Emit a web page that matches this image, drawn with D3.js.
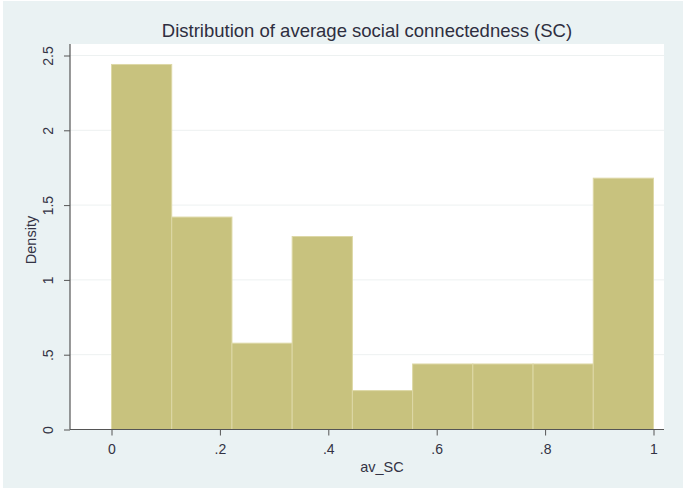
<!DOCTYPE html>
<html>
<head>
<meta charset="utf-8">
<script src="https://cdn.jsdelivr.net/npm/d3@7"></script>
<style>
  html, body { margin: 0; padding: 0; background: #ffffff; }
  svg { display: block; }
  text { font-family: "Liberation Sans", Arial, sans-serif; }
</style>
</head>
<body>
<div id="chart"></div>
<script>
// ---- data ----
const binStarts = [0, 1/9, 2/9, 3/9, 4/9, 5/9, 6/9, 7/9, 8/9];
const binWidth = 1/9;
const densities = [2.44, 1.42, 0.577, 1.29, 0.26, 0.438, 0.438, 0.438, 1.68];
const xTickValues = [0, 0.2, 0.4, 0.6, 0.8, 1];
const xTickLabels = ["0", ".2", ".4", ".6", ".8", "1"];
const yTickValues = [0, 0.5, 1, 1.5, 2, 2.5];
const yTickLabels = ["0", ".5", "1", "1.5", "2", "2.5"];
const titleText = "Distribution of average social connectedness (SC)";
const xTitle = "av_SC";
const yTitle = "Density";

// ---- layout ----
const W = 693, H = 492;
const svg = d3.select("#chart").append("svg").attr("width", W).attr("height", H);

// graph region
svg.append("rect").attr("x", 3).attr("y", 1).attr("width", 680).attr("height", 487)
  .attr("fill", "#eaf2f3");

const plot = { left: 70, right: 664, top: 44, bottom: 429.5 };
svg.append("rect").attr("x", plot.left).attr("y", plot.top)
  .attr("width", plot.right - plot.left).attr("height", plot.bottom - plot.top)
  .attr("fill", "#ffffff");

const x = d3.scaleLinear().domain([0, 1]).range([111.5, 653.5]);
const y = d3.scaleLinear().domain([0, 2.5]).range([429.5, 55.5]);

// gridlines
svg.append("g").selectAll("line").data(yTickValues.filter(v => v > 0)).join("line")
  .attr("x1", plot.left).attr("x2", plot.right)
  .attr("y1", d => y(d)).attr("y2", d => y(d))
  .attr("stroke", "#edf1f1").attr("stroke-width", 1);

// bars
svg.append("g").selectAll("rect").data(binStarts).join("rect")
  .attr("x", (d) => x(d))
  .attr("width", (d) => x(d + binWidth) - x(d))
  .attr("y", (d, i) => y(densities[i]))
  .attr("height", (d, i) => y(0) - y(densities[i]))
  .attr("fill", "#c8c27e")
  .attr("stroke", "#ddd8a6")
  .attr("stroke-width", 1);

// x axis
const xAxis = d3.axisBottom(x).tickValues(xTickValues)
  .tickFormat((d, i) => xTickLabels[i]).tickSize(6).tickPadding(9).tickSizeOuter(0);
const gx = svg.append("g").attr("transform", `translate(0,${plot.bottom})`).call(xAxis);
gx.select(".domain").remove();
gx.append("line").attr("x1", plot.left).attr("x2", plot.right).attr("y1", 0).attr("y2", 0)
  .attr("stroke", "#555").attr("stroke-width", 1.2);
gx.selectAll(".tick line").attr("stroke", "#555");
gx.selectAll(".tick text").attr("fill", "#333344").attr("font-size", 14)
  .attr("font-family", "Liberation Sans, Arial, sans-serif");

// y axis
const yAxis = d3.axisLeft(y).tickValues(yTickValues)
  .tickFormat((d, i) => yTickLabels[i]).tickSize(6).tickPadding(6).tickSizeOuter(0);
const gy = svg.append("g").attr("transform", `translate(${plot.left},0)`).call(yAxis);
gy.select(".domain").remove();
gy.append("line").attr("x1", 0).attr("x2", 0).attr("y1", plot.top).attr("y2", plot.bottom)
  .attr("stroke", "#555").attr("stroke-width", 1.2);
gy.selectAll(".tick line").attr("stroke", "#555");
gy.selectAll(".tick text")
  .attr("fill", "#333344").attr("font-size", 14)
  .attr("font-family", "Liberation Sans, Arial, sans-serif")
  .attr("x", null).attr("dy", null)
  .attr("text-anchor", "middle")
  .attr("transform", "translate(-22,0) rotate(-90)")
  .attr("dy", "0.35em");

// titles
svg.append("text").attr("x", 367).attr("y", 37).attr("text-anchor", "middle")
  .attr("font-size", 18.5).attr("fill", "#2e2e40").text(titleText);
svg.append("text").attr("x", 382).attr("y", 472).attr("text-anchor", "middle")
  .attr("font-size", 14.5).attr("fill", "#333344").text(xTitle);
svg.append("text").attr("transform", "translate(36,240) rotate(-90)").attr("text-anchor", "middle")
  .attr("font-size", 14.5).attr("fill", "#333344").text(yTitle);
</script>
</body>
</html>
